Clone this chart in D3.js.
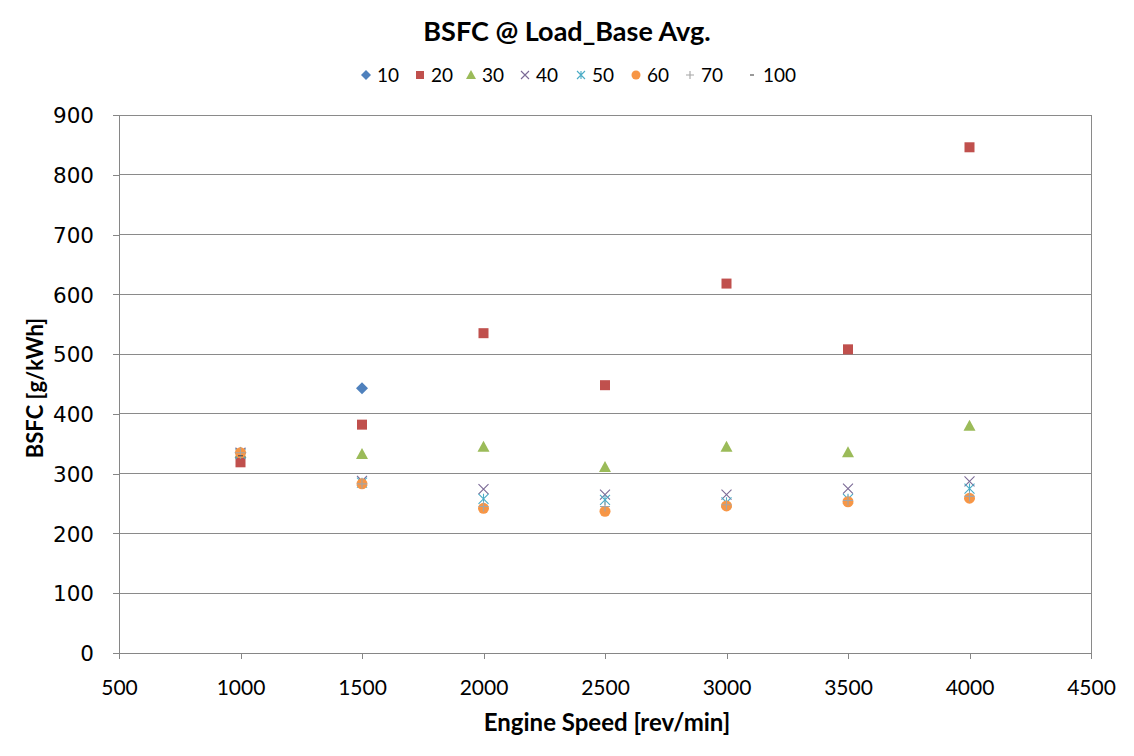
<!DOCTYPE html>
<html><head><meta charset="utf-8">
<script src="https://cdn.jsdelivr.net/npm/d3@7"></script>
<style>body{margin:0;background:#fff}svg{display:block}</style>
</head><body><svg id="c" width="1134" height="756"></svg>
<script>
const speeds = [1000, 1500, 2000, 2500, 3000, 3500, 4000];
const load10  = [335, 443, null, null, null, null, null];
const load20  = [319, 382, 535, 448, 618, 508, 846];
const load30  = [335, 333, 345, 311, 345, 336, 380];
const load40  = [335, 288, 274, 265, 265, 275, 287];
const load50  = [333, 285, 258, 256, 252, 258, 275];
const load60  = [335, 283, 242, 237, 246, 253, 259];
const load70  = [335, 283, 245, 245, 248, 255, 262];
const load100 = [330, null, null, null, null, null, null];
const seriesNames = ["10","20","30","40","50","60","70","100"];
const xTicks = [500,1000,1500,2000,2500,3000,3500,4000,4500];
const yTicks = [0,100,200,300,400,500,600,700,800,900];

const series = [
  {name:"10", vals:load10, color:"#4F81BD", shape:"diamond"},
  {name:"20", vals:load20, color:"#C0504D", shape:"square"},
  {name:"30", vals:load30, color:"#9BBB59", shape:"triangle"},
  {name:"40", vals:load40, color:"#7B6A96", shape:"x"},
  {name:"50", vals:load50, color:"#4BACC6", shape:"star"},
  {name:"60", vals:load60, color:"#F79646", shape:"circle"},
  {name:"70", vals:load70, color:"#A5A5A5", shape:"plus"},
  {name:"100", vals:load100, color:"#555555", shape:"dash"}
];

const svg = d3.select("#c");
const L=119, R=1091, T=115, B=653;
const x = d3.scaleLinear().domain([500,4500]).range([L,R]);
const y = d3.scaleLinear().domain([0,900]).range([B,T]);

svg.append("g").selectAll("line").data(yTicks.filter(d=>d>0)).join("line")
  .attr("x1",L).attr("x2",R).attr("y1",d=>y(d)).attr("y2",d=>y(d))
  .attr("stroke","#8a8a8a").attr("stroke-width",1).attr("shape-rendering","crispEdges");
svg.append("line").attr("x1",R).attr("x2",R).attr("y1",T).attr("y2",B)
  .attr("stroke","#8a8a8a").attr("shape-rendering","crispEdges");

const xa = svg.append("g").attr("transform",`translate(0,${B})`)
  .call(d3.axisBottom(x).tickValues(xTicks).tickFormat(d3.format("d")).tickSize(6).tickSizeOuter(0).tickPadding(25));
const ya = svg.append("g").attr("transform",`translate(${L},0)`)
  .call(d3.axisLeft(y).tickValues(yTicks).tickSize(6).tickSizeOuter(0).tickPadding(19));
[xa,ya].forEach(a=>{
  a.selectAll("path,line").attr("stroke","#868686").attr("shape-rendering","crispEdges");
});
xa.selectAll("text").attr("font-family","Lato, sans-serif").attr("font-size",21).attr("fill","#000").attr("dy","0.5em");
ya.selectAll("text").attr("font-family","'DejaVu Sans', sans-serif").attr("font-size",21.5).attr("fill","#000").attr("dy","0.36em");

function marker(g, shape, color, s){
  const h=s/2;
  if(shape==="diamond") g.append("path").attr("d",`M0,${-h-1}L${h+1},0L0,${h+1}L${-h-1},0Z`).attr("fill",color);
  else if(shape==="square") g.append("rect").attr("x",-h).attr("y",-h).attr("width",s).attr("height",s).attr("fill",color);
  else if(shape==="triangle") g.append("path").attr("d",`M0,${-h-1}L${h+1},${h}L${-h-1},${h}Z`).attr("fill",color);
  else if(shape==="circle") g.append("circle").attr("r",h+0.5).attr("fill",color);
  else if(shape==="x") g.append("path").attr("d",`M${-h},${-h}L${h},${h}M${-h},${h}L${h},${-h}`).attr("stroke",color).attr("stroke-width",1.1).attr("fill","none");
  else if(shape==="star") g.append("path").attr("d",`M${-h},${-h}L${h},${h}M${-h},${h}L${h},${-h}M0,${-h}L0,${h}`).attr("stroke",color).attr("stroke-width",1.1).attr("fill","none");
  else if(shape==="plus") g.append("path").attr("d",`M${-h},0L${h},0M0,${-h}L0,${h}`).attr("stroke",color).attr("stroke-width",1.1).attr("fill","none");
  else if(shape==="dash") g.append("path").attr("d",`M${-h/2},0L${h/2},0`).attr("stroke",color).attr("stroke-width",1.2).attr("fill","none");
}

series.forEach(sr=>{
  const pts = speeds.map((s,i)=>({s, v:sr.vals[i]})).filter(p=>p.v!=null);
  const g = svg.append("g");
  pts.forEach(p=>{
    const m = g.append("g").attr("transform",`translate(${x(p.s)},${y(p.v)})`);
    marker(m, sr.shape, sr.color, 10);
  });
});

svg.append("text").attr("x",567).attr("y",41).attr("text-anchor","middle")
  .attr("font-family","Lato, sans-serif").attr("font-weight","bold").attr("font-size",27).text("BSFC @ Load_Base Avg.");

const legX = [366,420,471,525,581,636,690,752];
const lg = svg.append("g");
series.forEach((sr,i)=>{
  const m = lg.append("g").attr("transform",`translate(${legX[i]},75)`);
  marker(m, sr.shape, sr.color, 8);
  lg.append("text").attr("x",legX[i]+11).attr("y",75).attr("dy","0.36em")
    .attr("font-family","Lato, sans-serif").attr("font-size",19).text(sr.name);
});

svg.append("text").attr("x",607).attr("y",731).attr("text-anchor","middle")
  .attr("font-family","Lato, sans-serif").attr("font-weight","bold").attr("font-size",24).text("Engine Speed [rev/min]");
svg.append("text").attr("transform","translate(43,388) rotate(-90)").attr("text-anchor","middle")
  .attr("font-family","Lato, sans-serif").attr("font-weight","bold").attr("font-size",22).text("BSFC [g/kWh]");
</script></body></html>
